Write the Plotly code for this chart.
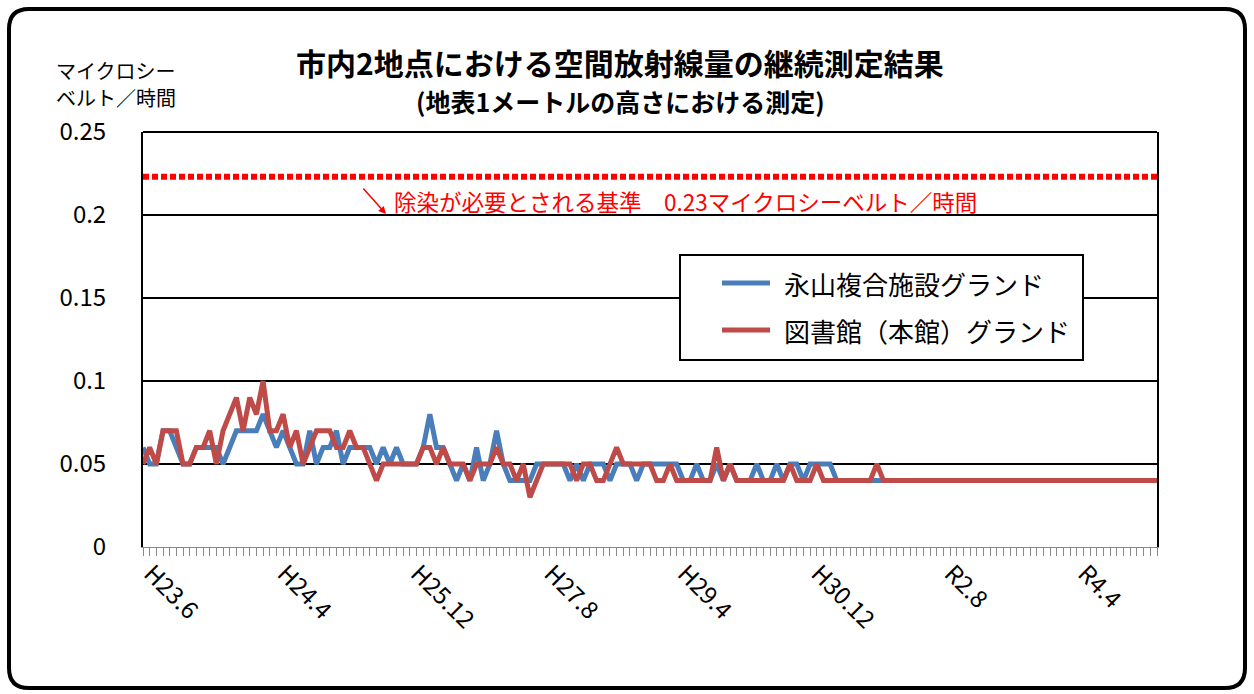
import plotly.graph_objects as go

# ---------------- data ----------------
series_names = ["永山複合施設グランド", "図書館（本館）グランド"]

nagayama = [
    0.06, 0.05, 0.05, 0.07, 0.07, 0.06, 0.05, 0.05, 0.06, 0.06,
    0.06, 0.06, 0.05, 0.06, 0.07, 0.07, 0.07, 0.07, 0.08, 0.07,
    0.06, 0.07, 0.06, 0.05, 0.05, 0.07, 0.05, 0.06, 0.06, 0.07,
    0.05, 0.06, 0.06, 0.06, 0.06, 0.05, 0.06, 0.05, 0.06, 0.05,
    0.05, 0.05, 0.06, 0.08, 0.06, 0.06, 0.05, 0.04, 0.05, 0.04,
    0.06, 0.04, 0.05, 0.07, 0.05, 0.04, 0.04, 0.04, 0.04, 0.05,
    0.05, 0.05, 0.05, 0.05, 0.04, 0.05, 0.04, 0.05, 0.05, 0.05,
    0.04, 0.05, 0.05, 0.05, 0.04, 0.05, 0.05, 0.05, 0.05, 0.05,
    0.05, 0.04, 0.04, 0.05, 0.04, 0.04, 0.05, 0.04, 0.05, 0.04,
    0.04, 0.04, 0.05, 0.04, 0.04, 0.05, 0.04, 0.05, 0.05, 0.04,
    0.05, 0.05, 0.05, 0.05, 0.04, 0.04, 0.04, 0.04, 0.04, 0.04,
    0.04, 0.04, 0.04, 0.04, 0.04, 0.04, 0.04, 0.04, 0.04, 0.04,
    0.04, 0.04, 0.04, 0.04, 0.04, 0.04, 0.04, 0.04, 0.04, 0.04,
    0.04, 0.04, 0.04, 0.04, 0.04, 0.04, 0.04, 0.04, 0.04, 0.04,
    0.04, 0.04, 0.04, 0.04, 0.04, 0.04, 0.04, 0.04, 0.04, 0.04,
    0.04, 0.04, 0.04,
]

toshokan = [
    0.05, 0.06, 0.05, 0.07, 0.07, 0.07, 0.05, 0.05, 0.06, 0.06,
    0.07, 0.05, 0.07, 0.08, 0.09, 0.07, 0.09, 0.08, 0.10, 0.07,
    0.07, 0.08, 0.06, 0.07, 0.05, 0.06, 0.07, 0.07, 0.07, 0.06,
    0.06, 0.07, 0.06, 0.06, 0.05, 0.04, 0.05, 0.05, 0.05, 0.05,
    0.05, 0.05, 0.06, 0.06, 0.05, 0.06, 0.05, 0.05, 0.05, 0.04,
    0.05, 0.05, 0.05, 0.06, 0.05, 0.05, 0.04, 0.05, 0.03, 0.04,
    0.05, 0.05, 0.05, 0.05, 0.05, 0.04, 0.05, 0.05, 0.04, 0.04,
    0.05, 0.06, 0.05, 0.05, 0.05, 0.05, 0.05, 0.04, 0.04, 0.05,
    0.04, 0.04, 0.04, 0.04, 0.04, 0.04, 0.06, 0.04, 0.05, 0.04,
    0.04, 0.04, 0.04, 0.04, 0.04, 0.04, 0.04, 0.05, 0.04, 0.04,
    0.04, 0.05, 0.04, 0.04, 0.04, 0.04, 0.04, 0.04, 0.04, 0.04,
    0.05, 0.04, 0.04, 0.04, 0.04, 0.04, 0.04, 0.04, 0.04, 0.04,
    0.04, 0.04, 0.04, 0.04, 0.04, 0.04, 0.04, 0.04, 0.04, 0.04,
    0.04, 0.04, 0.04, 0.04, 0.04, 0.04, 0.04, 0.04, 0.04, 0.04,
    0.04, 0.04, 0.04, 0.04, 0.04, 0.04, 0.04, 0.04, 0.04, 0.04,
    0.04, 0.04, 0.04,
]

x_tick_labels = ["H23.6", "H24.4", "H25.12", "H27.8", "H29.4", "H30.12", "R2.8", "R4.4"]
label_every = 20

standard_level = 0.223
standard_text = "除染が必要とされる基準　0.23マイクロシーベルト／時間"

title_text = "市内2地点における空間放射線量の継続測定結果"
subtitle_text = "(地表1メートルの高さにおける測定)"
y_title_lines = ["マイクロシー", "ベルト／時間"]

# ---------------- style ----------------
W, H = 1254, 694
PL, PR, PT, PB = 143, 1157, 132, 547
JP = "Noto Sans CJK JP"
BLUE = "#4A7EBB"
RED = "#BE4B48"
series_colors = [BLUE, RED]


def px_x(p):
    return (p - PL) / (PR - PL)


def px_y(p):
    return (PB - p) / (PB - PT)


x_idx = list(range(len(nagayama)))

fig = go.Figure()
for name, vals, col in zip(series_names, [nagayama, toshokan], series_colors):
    fig.add_trace(go.Scatter(
        x=x_idx, y=vals, mode="lines", name=name,
        line=dict(color=col, width=5), showlegend=False,
    ))
fig.add_trace(go.Scatter(
    x=[x_idx[0], x_idx[-1]], y=[standard_level, standard_level], mode="lines",
    line=dict(color="#FF0000", width=6, dash="6px,3px"), showlegend=False,
    hoverinfo="skip",
))

# rounded outer frame
L, R, T, B, r = 9, 1245, 9, 688, 20
rx = r / (PR - PL)
ry = r / (PB - PT)
x0, x1, y0, y1 = px_x(L), px_x(R), px_y(B), px_y(T)
path = (
    f"M {x0 + rx},{y1} L {x1 - rx},{y1} Q {x1},{y1} {x1},{y1 - ry} "
    f"L {x1},{y0 + ry} Q {x1},{y0} {x1 - rx},{y0} "
    f"L {x0 + rx},{y0} Q {x0},{y0} {x0},{y0 + ry} "
    f"L {x0},{y1 - ry} Q {x0},{y1} {x0 + rx},{y1} Z"
)

shapes = [
    dict(type="path", xref="paper", yref="paper", path=path,
         line=dict(color="black", width=4), layer="below"),
    # top edge of plot area
    dict(type="line", xref="paper", yref="paper", x0=0, x1=1, y0=1, y1=1,
         line=dict(color="black", width=2), layer="above"),
]

# legend box (drawn)
LEG_L, LEG_R, LEG_T, LEG_B = 680, 1083, 255, 360
shapes.append(dict(type="rect", xref="paper", yref="paper",
                   x0=px_x(LEG_L), x1=px_x(LEG_R), y0=px_y(LEG_B), y1=px_y(LEG_T),
                   line=dict(color="black", width=2), fillcolor="white", layer="above"))
legend_rows = [283, 330]
annotations = []
for name, col, ry_px in zip(series_names, series_colors, legend_rows):
    shapes.append(dict(type="line", xref="paper", yref="paper",
                       x0=px_x(722), x1=px_x(770), y0=px_y(ry_px), y1=px_y(ry_px),
                       line=dict(color=col, width=5), layer="above"))
    annotations.append(dict(text=name, x=px_x(782), y=px_y(ry_px), xref="paper", yref="paper",
                            showarrow=False, font=dict(family=JP, size=26, color="black"),
                            xanchor="left", yanchor="middle"))

for line_text, ly in zip(y_title_lines, [70, 98]):
    annotations.append(dict(text=line_text, x=px_x(55), y=px_y(ly), xref="paper", yref="paper",
                            showarrow=False, font=dict(family=JP, size=20, color="black"),
                            xanchor="left", yanchor="middle", borderpad=0))

annotations += [
    dict(text=f"<b>{title_text}</b>", x=px_x(620), y=px_y(62), xref="paper", yref="paper",
         showarrow=False, font=dict(family=JP, size=30, color="black"), xanchor="center", yanchor="middle"),
    dict(text=f"<b>{subtitle_text}</b>", x=px_x(620), y=px_y(101), xref="paper", yref="paper",
         showarrow=False, font=dict(family=JP, size=25, color="black"), xanchor="center", yanchor="middle"),
    dict(text=standard_text, x=px_x(685), y=px_y(201), xref="paper", yref="paper",
         showarrow=False, font=dict(family=JP, size=22.5, color="#FF0000"), xanchor="center", yanchor="middle"),
    dict(text="", x=px_x(386), y=px_y(214), xref="paper", yref="paper",
         showarrow=True, ax=-24, ay=-27, arrowcolor="#FF0000", arrowwidth=1.5,
         arrowhead=2, arrowsize=1),
]

fig.update_layout(
    width=W, height=H,
    margin=dict(l=PL, r=W - PR, t=PT, b=H - PB, autoexpand=False),
    paper_bgcolor="white", plot_bgcolor="white",
    font=dict(family=JP, color="black"),
    showlegend=False,
    shapes=shapes,
    annotations=annotations,
)

fig.update_xaxes(
    range=[x_idx[0], x_idx[-1]],
    tickmode="array",
    tickvals=x_idx[::label_every][:len(x_tick_labels)],
    ticktext=x_tick_labels,
    tickangle=45,
    tickfont=dict(family=JP, size=24, color="black"),
    ticks="outside", ticklen=2, tickcolor="#888888", tickwidth=1,
    ticklabelshift=8,
    minor=dict(dtick=1, tick0=0, ticks="outside", ticklen=8, tickcolor="#888888", tickwidth=1, showgrid=False),
    showline=True, linecolor="#888888", linewidth=1,
    showgrid=False, zeroline=False,
)
fig.update_yaxes(
    range=[0, 0.25], dtick=0.05, tick0=0,
    tickformat="~g",
    tickfont=dict(family=JP, size=24, color="black"),
    showgrid=True, gridcolor="black", gridwidth=1.5,
    showline=True, linecolor="black", linewidth=2, mirror=True,
    zeroline=False, ticks="", ticklabelstandoff=30,
)

fig.write_html("out.html", config={"displayModeBar": False},
               post_script="document.body.style.margin='0px';")
